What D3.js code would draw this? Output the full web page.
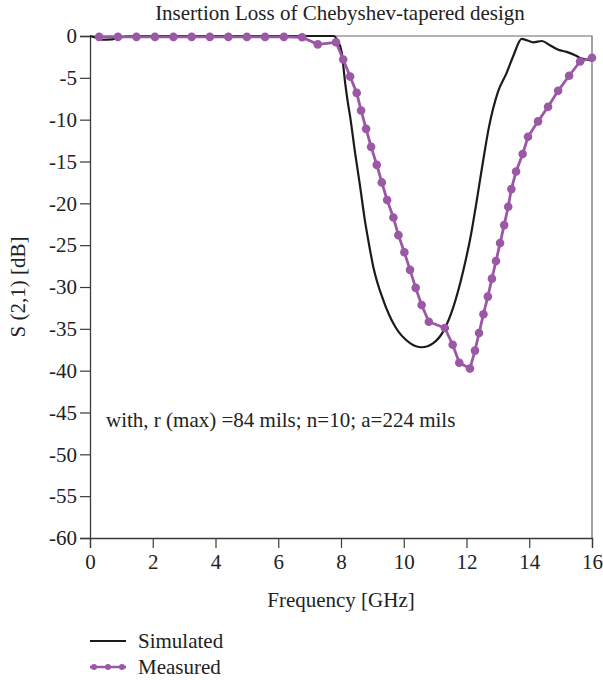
<!DOCTYPE html>
<html lang="en">
<head>
<meta charset="UTF-8">
<title>Insertion Loss of Chebyshev-tapered design</title>
<style>
    body { margin: 0; background: #fff; }
    text { font-family: "Liberation Serif", "DejaVu Serif", serif; fill: #222; }
    .line { fill: none; stroke-linejoin: round; }
</style>
</head>
<body>
<div id="chart"></div>
<script src="https://d3js.org/d3.v7.min.js"></script>
<script>
    // frequency [GHz], S21 [dB]
    const simulated = [
        [0, 0], [0.2, -0.2], [0.4, -0.45], [0.7, -0.4], [1.0, -0.15], [1.3, -0.05], [2, 0],
        [4, 0], [6, 0], [7.76, 0], [7.9, -0.6], [8.02, -1.9], [8.13, -5.5], [8.22, -8],
        [8.29, -9.6], [8.45, -14], [8.61, -18], [8.76, -22], [8.85, -24], [9.03, -27.6],
        [9.35, -31.6], [9.72, -34.7], [10.2, -36.7], [10.57, -37.2], [10.94, -36.7],
        [11.26, -35.3], [11.58, -32.4], [11.9, -28], [12.15, -23.6], [12.33, -19.6],
        [12.5, -15.6], [12.72, -10.8], [13.0, -6.7], [13.28, -4.4], [13.5, -2.3],
        [13.76, -0.35], [14.13, -0.75], [14.4, -0.6], [14.66, -1.1], [14.93, -1.65],
        [15.19, -1.9], [15.46, -2.3], [15.67, -2.7], [15.94, -2.9], [16, -2.95]
    ];

    const measured = [
        [0.29, -0.1], [0.89, -0.1], [1.48, -0.1], [2.07, -0.1], [2.66, -0.1], [3.24, -0.1],
        [3.82, -0.1], [4.41, -0.1], [5.0, -0.1], [5.58, -0.1], [6.18, -0.1], [6.76, -0.15],
        [7.26, -1.0], [7.84, -0.75], [8.07, -2.8], [8.29, -4.85], [8.5, -6.8], [8.64, -8.9],
        [8.8, -11.1], [8.96, -13.25], [9.14, -15.4], [9.3, -17.5], [9.47, -19.6], [9.67, -21.7],
        [9.83, -23.8], [10.02, -25.85], [10.2, -27.95], [10.38, -30.1], [10.57, -32.15],
        [10.8, -34.15], [11.31, -34.9], [11.56, -36.9], [11.77, -39.05], [12.11, -39.75],
        [12.27, -37.6], [12.4, -35.5], [12.54, -33.25], [12.68, -31.15], [12.81, -29.0],
        [12.94, -26.9], [13.07, -24.75], [13.2, -22.6], [13.33, -20.4], [13.43, -18.3],
        [13.58, -16.2], [13.79, -14.1], [13.96, -12.05], [14.28, -10.2], [14.6, -8.45],
        [14.92, -6.55], [15.27, -4.75], [15.62, -3.05], [16.0, -2.6]
    ];

    const xTicks = [0, 2, 4, 6, 8, 10, 12, 14, 16];
    const yTicks = [0, -5, -10, -15, -20, -25, -30, -35, -40, -45, -50, -55, -60];

    const width = 603, height = 680;
    const margin = { top: 36, right: 11, bottom: 142, left: 90 };
    const purple = "#9a58a5", black = "#1b1b1b", axisColor = "#3a3a3a";
    const fontSize = "21px";

    const svg = d3.select("#chart").append("svg")
        .attr("width", width)
        .attr("height", height);

    const x = d3.scaleLinear().domain([0, 16]).range([margin.left, width - margin.right]);
    const y = d3.scaleLinear().domain([-60, 0]).range([height - margin.bottom, margin.top]);

    // frame (top + right)
    svg.append("path")
        .attr("d", `M${x(0)},${y(0)}H${x(16)}V${y(-60)}`)
        .attr("fill", "none")
        .attr("stroke", "#666")
        .attr("stroke-width", 1.2);

    // minor ticks, then major ticks with labels
    const xAxisG = svg.append("g").attr("transform", `translate(0,${y(-60)})`);
    xAxisG.call(d3.axisBottom(x).tickValues(d3.range(1, 16, 2)).tickSize(5).tickFormat(""));
    xAxisG.call(d3.axisBottom(x).tickValues(xTicks).tickSize(10).tickPadding(6).tickFormat(d3.format("d")));

    const yAxisG = svg.append("g").attr("transform", `translate(${x(0)},0)`);
    yAxisG.call(d3.axisLeft(y).tickValues(d3.range(-59, 0).filter(v => v % 5 !== 0)).tickSize(5).tickFormat(""));
    yAxisG.call(d3.axisLeft(y).tickValues(yTicks).tickSize(10).tickPadding(3).tickFormat(d => d));

    svg.selectAll(".domain").attr("stroke", axisColor).attr("stroke-width", 1.3);
    svg.selectAll(".tick line").attr("stroke", axisColor).attr("stroke-width", 1.2);
    svg.selectAll(".tick text")
        .style("font-family", '"Liberation Serif", serif')
        .style("font-size", fontSize)
        .attr("fill", "#222");

    const line = d3.line().x(d => x(d[0])).y(d => y(d[1]));
    const smooth = d3.line().x(d => x(d[0])).y(d => y(d[1])).curve(d3.curveMonotoneX);

    svg.append("path")
        .datum(simulated)
        .attr("class", "line")
        .attr("stroke", black)
        .attr("stroke-width", 2.2)
        .attr("d", smooth);

    svg.append("path")
        .datum(measured)
        .attr("class", "line")
        .attr("stroke", purple)
        .attr("stroke-width", 2.8)
        .attr("d", line);

    svg.selectAll(".dot")
        .data(measured)
        .enter().append("circle")
        .attr("class", "dot")
        .attr("cx", d => x(d[0]))
        .attr("cy", d => y(d[1]))
        .attr("r", 4.3)
        .attr("fill", purple);

    // title + labels
    svg.append("text")
        .attr("x", 340)
        .attr("y", 20)
        .attr("text-anchor", "middle")
        .style("font-size", fontSize)
        .text("Insertion Loss of Chebyshev-tapered design");

    svg.append("text")
        .attr("x", 341)
        .attr("y", 607)
        .attr("text-anchor", "middle")
        .style("font-size", fontSize)
        .text("Frequency [GHz]");

    svg.append("text")
        .attr("transform", `translate(25,${(y(0) + y(-60)) / 2}) rotate(-90)`)
        .attr("text-anchor", "middle")
        .style("font-size", fontSize)
        .text("S (2,1) [dB]");

    svg.append("text")
        .attr("x", 106)
        .attr("y", 427)
        .style("font-size", fontSize)
        .text("with, r (max) =84 mils; n=10; a=224 mils");

    // legend
    const legend = [
        { name: "Simulated", color: black, dots: false },
        { name: "Measured", color: purple, dots: true }
    ];
    const lg = svg.selectAll(".legend")
        .data(legend)
        .enter().append("g")
        .attr("class", "legend")
        .attr("transform", (d, i) => `translate(90,${641 + i * 26})`);

    lg.append("line")
        .attr("x1", 0).attr("x2", 36)
        .attr("stroke", d => d.color)
        .attr("stroke-width", d => d.dots ? 2.4 : 2.2);

    lg.filter(d => d.dots).selectAll("circle")
        .data([4, 18, 32])
        .enter().append("circle")
        .attr("cx", d => d)
        .attr("r", 3)
        .attr("fill", purple);

    lg.append("text")
        .attr("x", 48)
        .attr("dy", "0.35em")
        .style("font-size", fontSize)
        .text(d => d.name);
</script>
</body>
</html>
